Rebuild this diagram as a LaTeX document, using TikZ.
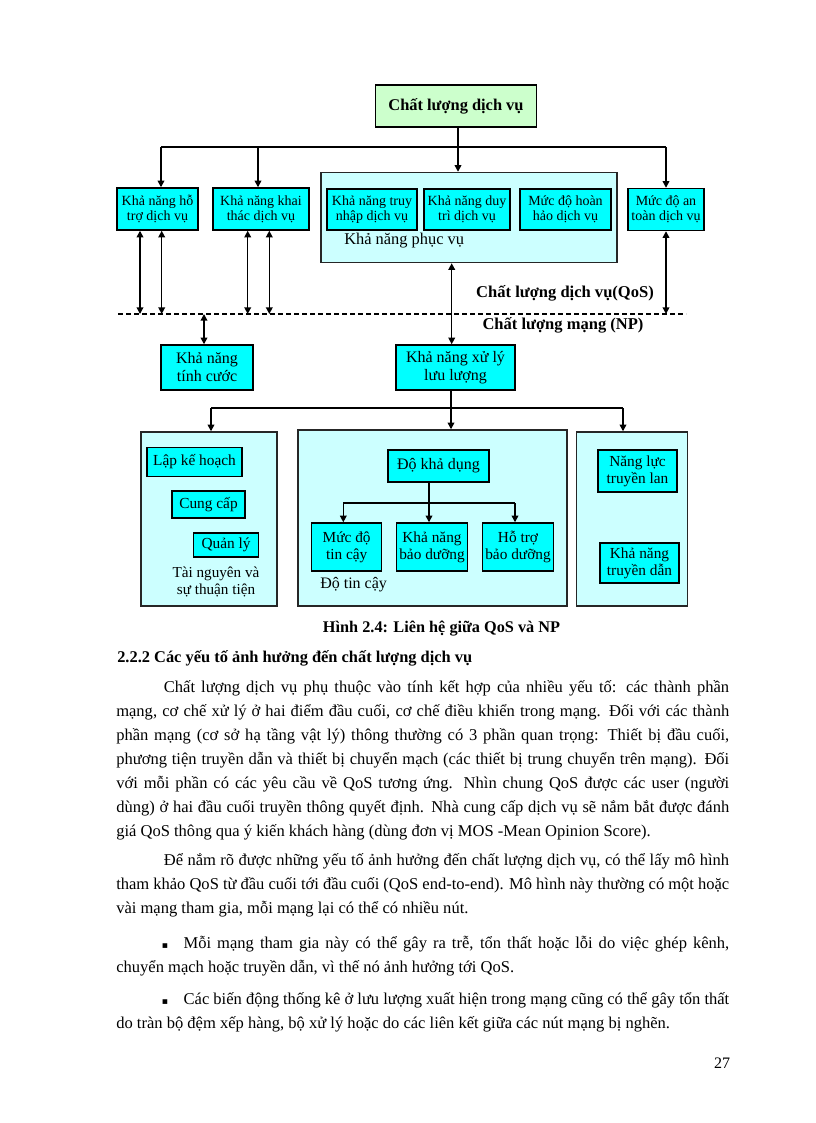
\documentclass[tikz,border=0pt]{standalone}
\usepackage{fontspec}
\setmainfont{Liberation Serif}
\newfontfamily\symf{DejaVu Sans}
\usetikzlibrary{arrows.meta}
\definecolor{cyanbox}{HTML}{00FFFF}
\definecolor{lightcyan}{HTML}{CCFFFF}
\definecolor{lightgreen}{HTML}{CCFFCC}
\begin{document}
\begin{tikzpicture}[x=0.75pt,y=-0.75pt,
  cbox/.style={draw=black, line width=1.1pt, fill=cyanbox, align=center, inner sep=0pt, font=\fontsize{10.5}{11.5}\selectfont},
  lbox/.style={cbox, font=\fontsize{11.5}{13}\selectfont},
  bigbox/.style={draw=black!85, line width=1.1pt, fill=lightcyan, inner sep=0pt},
  conn/.style={line width=1.1pt},
  arr/.style={conn, -{Triangle[length=5pt,width=5pt]}},
  darr/.style={conn, {Triangle[length=5pt,width=5pt]}-{Triangle[length=5pt,width=5pt]}},
  sepline/.style={line width=0.8pt, dash pattern=on 3.5pt off 2.5pt},
  body/.style={anchor=mid west, inner sep=0pt, font=\fontsize{12.4}{15}\selectfont},
  lbl/.style={inner sep=0pt, align=center}
]
\useasboundingbox (0,0) rectangle (816,1123);
\fill[white] (0,0) rectangle (816,1123);

% ---------- top part ----------
\node[cbox, fill=lightgreen, minimum width=120.75pt, minimum height=31.5pt, font=\bfseries\fontsize{12.3}{14}\selectfont] (top) at (456,106) {Chất lượng dịch vụ};

\node[cbox, minimum width=60.75pt, minimum height=31.5pt] (b1) at (157.5,209) {Khả năng hỗ\\trợ dịch vụ};
\node[cbox, minimum width=72pt, minimum height=31.5pt] (b2) at (261,209) {Khả năng khai\\thác dịch vụ};
\node[bigbox, minimum width=222pt, minimum height=67.5pt] (big) at (469,217.5) {};
\node[cbox, minimum width=67.5pt, minimum height=30.75pt] (in1) at (372,209.5) {Khả năng truy\\nhập dịch vụ};
\node[cbox, minimum width=64.5pt, minimum height=30.75pt] (in2) at (467,209.5) {Khả năng duy\\trì dịch vụ};
\node[cbox, minimum width=68.25pt, minimum height=30.75pt] (in3) at (565.5,209.5) {Mức độ hoàn\\hảo dịch vụ};
\node[anchor=west, inner sep=0pt, font=\fontsize{12.3}{14}\selectfont] (kpv) at (344,241) {Khả năng phục vụ};
\node[cbox, minimum width=57pt, minimum height=31.5pt] (b4) at (666,209.5) {Mức độ an\\toàn dịch vụ};

\coordinate (tl) at (161,147);
\coordinate (t2) at (258,147);
\coordinate (t3) at (458,147);
\coordinate (tr) at (666,147);
\draw[conn] (tl) -- (tr);
\draw[arr] (tl) -- (b1.north -| tl);
\draw[arr] (t2) -- (b2.north -| t2);
\draw[arr] (top.south -| t3) -- (big.north -| t3);
\draw[arr] (tr) -- (b4.north -| tr);

% dashed separator
\coordinate (dl) at (118,314);
\coordinate (dr) at (686,314);
\draw[sepline] (dl) -- (dr);

\coordinate (d1) at (140,314);
\coordinate (d2) at (161.7,314);
\coordinate (d3) at (247.7,314);
\coordinate (d4) at (269.3,314);
\coordinate (d5) at (666,314);
\coordinate (d6) at (204,314);
\draw[darr] (b1.south -| d1) -- (d1);
\draw[darr] (b1.south -| d2) -- (d2);
\draw[darr] (b2.south -| d3) -- (d3);
\draw[darr] (b2.south -| d4) -- (d4);
\draw[darr] (b4.south -| d5) -- (d5);

\node[lbl, font=\bfseries\fontsize{12.4}{14}\selectfont] (qos) at (565,293) {Chất lượng dịch vụ(QoS)};
\node[lbl, font=\bfseries\fontsize{12.4}{14}\selectfont] (np) at (563,325) {Chất lượng mạng (NP)};

\node[cbox, minimum width=69pt, minimum height=33.75pt, font=\fontsize{12}{13.5}\selectfont] (tc) at (207,367.5) {Khả năng\\tính cước};
\node[cbox, minimum width=89.25pt, minimum height=33.75pt, font=\fontsize{12}{13.5}\selectfont] (xl) at (455.5,367.5) {Khả năng xử lý\\lưu lượng};
\draw[darr] (d6) -- (tc.north -| d6);
\coordinate (c1) at (451.7,300);
\draw[darr] (big.south -| c1) -- (xl.north -| c1);

% ---------- bottom part ----------
\node[bigbox, minimum width=102pt, minimum height=130.5pt] (lb) at (209,519) {};
\node[bigbox, minimum width=201.75pt, minimum height=132pt] (mb) at (432.5,518) {};
\node[bigbox, minimum width=83.25pt, minimum height=130.5pt] (rb) at (632,519) {};

\coordinate (jc) at (451,408);
\coordinate (jl) at (211,408);
\coordinate (jr) at (623,408);
\draw[conn] (xl.south -| jc) -- (jc);
\draw[conn] (jl) -- (jr);
\draw[arr] (jc) -- (mb.north -| jc);
\draw[arr] (jl) -- (lb.north -| jl);
\draw[arr] (jr) -- (rb.north -| jr);

\node[lbox, minimum width=71.25pt, minimum height=21.75pt] (lkh) at (194.5,462) {Lập kế hoạch};
\node[lbox, minimum width=54.75pt, minimum height=20.25pt] (cc) at (208.5,504.5) {Cung cấp};
\node[lbox, minimum width=48.75pt, minimum height=18pt] (ql) at (226,545) {Quản lý};
\node[lbl, font=\fontsize{11.4}{12.5}\selectfont] (tn) at (216,582) {Tài nguyên và\\sự thuận tiện};

\node[lbox, minimum width=75.75pt, minimum height=24pt, font=\fontsize{12}{13}\selectfont] (dkd) at (438.5,466) {Độ khả dụng};
\node[lbox, minimum width=52.5pt, minimum height=36pt] (mtc) at (346.7,547) {Mức độ\\tin cậy};
\node[lbox, minimum width=53.25pt, minimum height=36pt] (knbd) at (432,547) {Khả năng\\bảo dưỡng};
\node[lbox, minimum width=53.25pt, minimum height=36pt] (htbd) at (518,547) {Hỗ trợ\\bảo dưỡng};
\node[anchor=west, inner sep=0pt, font=\fontsize{12}{13}\selectfont] (dtc) at (320,585) {Độ tin cậy};

\coordinate (k) at (429,503);
\coordinate (kl) at (343.3,503);
\coordinate (kr) at (515,503);
\draw[arr] (dkd.south -| k) -- (knbd.north -| k);
\draw[conn] (kl) -- (kr);
\draw[arr] (kl) -- (mtc.north -| kl);
\draw[arr] (kr) -- (htbd.north -| kr);

\node[lbox, minimum width=59.25pt, minimum height=31.5pt] (nltl) at (637.5,471) {Năng lực\\truyền lan};
\node[lbox, minimum width=59.25pt, minimum height=30pt] (kntd) at (639.5,563) {Khả năng\\truyền dẫn};

% ---------- text ----------
\node[lbl, font=\bfseries\fontsize{12.2}{15}\selectfont] (cap) at (441.5,629) {Hình 2.4: Liên hệ giữa QoS và NP};
\node[body, font=\bfseries\fontsize{12.3}{15}\selectfont] (h1) at (117,659) {2.2.2 Các yếu tố ảnh hưởng đến chất lượng dịch vụ};

\node[body] (p1) at (163.6,689) {\makebox[424pt][s]{Chất lượng dịch vụ phụ thuộc vào tính kết hợp của nhiều yếu tố: các thành phần}};
\node[body] (p2) at (116,713) {\makebox[459.75pt][s]{mạng, cơ chế xử lý ở hai điểm đầu cuối, cơ chế điều khiển trong mạng. Đối với các thành}};
\node[body] (p3) at (116,737) {\makebox[459.75pt][s]{phần mạng (cơ sở hạ tầng vật lý) thông thường có 3 phần quan trọng: Thiết bị đầu cuối,}};
\node[body] (p4) at (116,761) {\makebox[459.75pt][s]{phương tiện truyền dẫn và thiết bị chuyển mạch (các thiết bị trung chuyển trên mạng). Đối}};
\node[body] (p5) at (116,785) {\makebox[459.75pt][s]{với mỗi phần có các yêu cầu về QoS tương ứng. Nhìn chung QoS được các user (người}};
\node[body] (p6) at (116,809) {\makebox[459.75pt][s]{dùng) ở hai đầu cuối truyền thông quyết định. Nhà cung cấp dịch vụ sẽ nắm bắt được đánh}};
\node[body] (p7) at (116,833) {giá QoS thông qua ý kiến khách hàng (dùng đơn vị MOS -Mean Opinion Score).};

\node[body] (q1) at (163.6,862) {\makebox[424pt][s]{Để nắm rõ được những yếu tố ảnh hưởng đến chất lượng dịch vụ, có thể lấy mô hình}};
\node[body] (q2) at (116,886) {\makebox[459.75pt][s]{tham khảo QoS từ đầu cuối tới đầu cuối (QoS end-to-end). Mô hình này thường có một hoặc}};
\node[body] (q3) at (116,910) {vài mạng tham gia, mỗi mạng lại có thể có nhiều nút.};

\node[body, font=\symf\fontsize{7}{8}\selectfont] (bu1) at (161.6,945) {▪};
\node[body] (r1) at (183.4,945) {\makebox[409.2pt][s]{Mỗi mạng tham gia này có thể gây ra trễ, tổn thất hoặc lỗi do việc ghép kênh,}};
\node[body] (r2) at (116,969) {chuyển mạch hoặc truyền dẫn, vì thế nó ảnh hưởng tới QoS.};

\node[body, font=\symf\fontsize{7}{8}\selectfont] (bu2) at (161.6,1001) {▪};
\node[body] (s1) at (183.4,1001) {\makebox[409.2pt][s]{Các biến động thống kê ở lưu lượng xuất hiện trong mạng cũng có thể gây tổn thất}};
\node[body] (s2) at (116,1025) {do tràn bộ đệm xếp hàng, bộ xử lý hoặc do các liên kết giữa các nút mạng bị nghẽn.};

\node[lbl, font=\fontsize{12}{14}\selectfont] (pg) at (722,1063) {27};
\end{tikzpicture}
\end{document}
